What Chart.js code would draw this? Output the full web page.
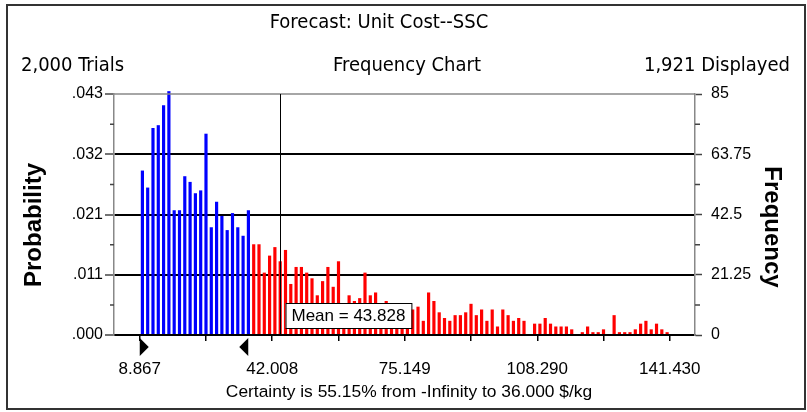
<!DOCTYPE html>
<html>
<head>
<meta charset="utf-8">
<script src="https://cdn.jsdelivr.net/npm/chart.js@4.4.1/dist/chart.umd.min.js"></script>
<style>
  html, body { margin: 0; padding: 0; background: #fff; }
  #wrap { width: 807px; height: 412px; }
</style>
</head>
<body>
<div id="wrap"><canvas id="forecastChart" width="807" height="412"></canvas></div>
<script>
// 100 bins, frequency per bin
const frequencies = [
  58, 52, 73, 74, 81, 86, 44, 44, 56, 54, 50, 51, 71, 38, 47, 42, 37, 43, 38, 35, 44,
  32, 32, 22, 28, 31, 26, 30, 18, 24, 24, 22, 20, 14, 19, 24, 17, 26, 9, 14, 12,
  13, 22, 14, 15, 11, 12, 10, 11, 11, 9, 9, 10, 5, 15, 12, 8, 6, 5, 7, 7,
  8, 11, 7, 9, 5, 9, 3, 9, 7, 5, 6, 5, 0, 4, 4, 6, 4, 3, 3, 3,
  2, 0, 1, 3, 1, 1, 2, 0, 7, 1, 1, 1, 2, 4, 5, 2, 4, 2, 1
];
const binLow = 8.867;
const binHigh = 141.430;
const meanValue = 43.828;
const certaintyHigh = 36.0;
const certaintyPct = "55.15";

const xTickLabels = ["8.867", "42.008", "75.149", "108.290", "141.430"];
const yTickValues = [0, 21.25, 42.5, 63.75, 85];
const probabilityLabels = [".000", ".011", ".021", ".032", ".043"];
const frequencyLabels = ["0", "21.25", "42.5", "63.75", "85"];

const titleText = "Forecast: Unit Cost--SSC";
const trialsText = "2,000 Trials";
const chartKindText = "Frequency Chart";
const displayedText = "1,921 Displayed";

const binWidth = (binHigh - binLow) / frequencies.length;
const points = frequencies.map((f, i) => ({ x: binLow + (i + 0.5) * binWidth, y: f }));
const barColors = frequencies.map((f, i) => (binLow + i * binWidth < certaintyHigh ? "#0000ff" : "#ff0000"));

// all x ticks: labelled ones plus the unlabelled ones half way between
const xTickNumbers = xTickLabels.map(Number);
const xAllTicks = [];
xTickNumbers.forEach((v, i) => {
  xAllTicks.push(v);
  if (i < xTickNumbers.length - 1) xAllTicks.push((v + xTickNumbers[i + 1]) / 2);
});

const FONT = "'Liberation Sans', Arial, sans-serif";
const HEAD_FONT = "'DejaVu Sans Condensed', 'DejaVu Sans', sans-serif";

const decorPlugin = {
  id: "decor",
  afterDraw(chart) {
    const ctx = chart.ctx;
    const area = chart.chartArea;
    const xs = chart.scales.x;
    const ys = chart.scales.y;
    ctx.save();

    // outer frame
    ctx.strokeStyle = "#333";
    ctx.lineWidth = 2;
    ctx.strokeRect(7, 5, 798, 404);

    // header
    ctx.fillStyle = "#000";
    ctx.textBaseline = "middle";
    ctx.font = "20px " + HEAD_FONT;
    ctx.textAlign = "center";
    ctx.fillText(titleText, 379, 23);
    ctx.fillText(chartKindText, 407, 66);
    ctx.textAlign = "left";
    ctx.fillText(trialsText, 21, 66);
    ctx.textAlign = "right";
    ctx.fillText(displayedText, 790, 66);

    // top edge of the plot
    ctx.strokeStyle = "#888";
    ctx.lineWidth = 1.5;
    ctx.beginPath();
    ctx.moveTo(area.left, area.top);
    ctx.lineTo(area.right, area.top);
    ctx.stroke();

    // minor y ticks
    ctx.strokeStyle = "#444";
    ctx.lineWidth = 1.5;
    for (let i = 0; i < yTickValues.length - 1; i++) {
      const y = ys.getPixelForValue((yTickValues[i] + yTickValues[i + 1]) / 2);
      ctx.beginPath();
      ctx.moveTo(area.left - 4, y);
      ctx.lineTo(area.left, y);
      ctx.moveTo(area.right, y);
      ctx.lineTo(area.right + 5, y);
      ctx.stroke();
    }

    // mean line
    const mx = Math.round(xs.getPixelForValue(meanValue)) + 0.5;
    ctx.strokeStyle = "#000";
    ctx.lineWidth = 1;
    ctx.beginPath();
    ctx.moveTo(mx, area.top);
    ctx.lineTo(mx, area.bottom);
    ctx.stroke();

    // mean label
    const meanText = "Mean = " + meanValue.toFixed(3);
    ctx.font = "17px " + FONT;
    const tw = ctx.measureText(meanText).width;
    const bx = mx + 5, by = 303, bw = tw + 12, bh = 25;
    ctx.fillStyle = "#fff";
    ctx.fillRect(bx, by, bw, bh);
    ctx.strokeStyle = "#000";
    ctx.strokeRect(bx + 0.5, by + 0.5, bw, bh);
    ctx.fillStyle = "#000";
    ctx.textAlign = "left";
    ctx.textBaseline = "middle";
    ctx.fillText(meanText, bx + 6, by + bh / 2 + 1);

    // certainty range markers
    const lx = xs.getPixelForValue(binLow);
    const rx = xs.getPixelForValue(certaintyHigh);
    ctx.fillStyle = "#000";
    ctx.beginPath();
    ctx.moveTo(lx, 338);
    ctx.lineTo(lx + 9, 347);
    ctx.lineTo(lx, 356);
    ctx.closePath();
    ctx.fill();
    ctx.beginPath();
    ctx.moveTo(rx, 338);
    ctx.lineTo(rx - 9, 347);
    ctx.lineTo(rx, 356);
    ctx.closePath();
    ctx.fill();

    // axis titles
    ctx.font = "bold 24px " + FONT;
    ctx.textAlign = "center";
    ctx.textBaseline = "middle";
    ctx.save();
    ctx.translate(34, 225);
    ctx.rotate(-Math.PI / 2);
    ctx.fillText("Probability", 0, 0);
    ctx.restore();
    ctx.save();
    ctx.translate(772, 227);
    ctx.rotate(Math.PI / 2);
    ctx.fillText("Frequency", 0, 0);
    ctx.restore();

    // certainty line
    ctx.font = "17.4px " + FONT;
    ctx.fillText("Certainty is " + certaintyPct + "% from -Infinity to " + certaintyHigh.toFixed(3) + " $/kg", 409, 392);

    ctx.restore();
  }
};

new Chart(document.getElementById("forecastChart"), {
  type: "bar",
  data: {
    datasets: [{
      data: points,
      backgroundColor: barColors,
      borderWidth: 0,
      barPercentage: 0.6,
      categoryPercentage: 1,
      clip: false
    }]
  },
  options: {
    responsive: false,
    animation: false,
    devicePixelRatio: 1,
    layout: { padding: { top: 94, left: 0, right: 0, bottom: 0 } },
    plugins: { legend: { display: false }, tooltip: { enabled: false } },
    scales: {
      x: {
        type: "linear",
        min: 2.43,
        max: 147.74,
        offset: false,
        afterBuildTicks: (s) => { s.ticks = xAllTicks.map((v) => ({ value: v })); },
        afterFit: (s) => { s.height = 77; },
        ticks: {
          autoSkip: false,
          maxRotation: 0,
          padding: 18,
          color: "#000",
          font: { family: FONT, size: 17 },
          callback: (v, i) => (i % 2 === 0 ? xTickLabels[i / 2] : "")
        },
        grid: { drawOnChartArea: false, offset: false, tickLength: 6, color: "#000", lineWidth: 1.5 },
        border: { color: "#000", width: 2 }
      },
      y: {
        position: "left",
        min: 0,
        max: 85,
        afterBuildTicks: (s) => { s.ticks = yTickValues.map((v) => ({ value: v })); },
        afterFit: (s) => { s.width = 114; },
        ticks: {
          padding: 2,
          color: "#000",
          font: { family: FONT, size: 16 },
          callback: (v, i) => probabilityLabels[i]
        },
        grid: {
          color: (c) => (c.tick && c.tick.value > 0 && c.tick.value < 85 ? "#000" : "rgba(0,0,0,0)"),
          lineWidth: 2,
          tickLength: 9,
          tickColor: "#444",
          tickWidth: 1.5
        },
        border: { color: "#888", width: 1.5 }
      },
      y2: {
        position: "right",
        min: 0,
        max: 85,
        afterBuildTicks: (s) => { s.ticks = yTickValues.map((v) => ({ value: v })); },
        afterFit: (s) => { s.width = 112; },
        ticks: {
          padding: 9,
          color: "#000",
          font: { family: FONT, size: 16 },
          callback: (v, i) => frequencyLabels[i]
        },
        grid: { drawOnChartArea: false, tickLength: 7, tickColor: "#444", tickWidth: 1.5 },
        border: { color: "#888", width: 1.5 }
      }
    }
  },
  plugins: [decorPlugin]
});
</script>
</body>
</html>
